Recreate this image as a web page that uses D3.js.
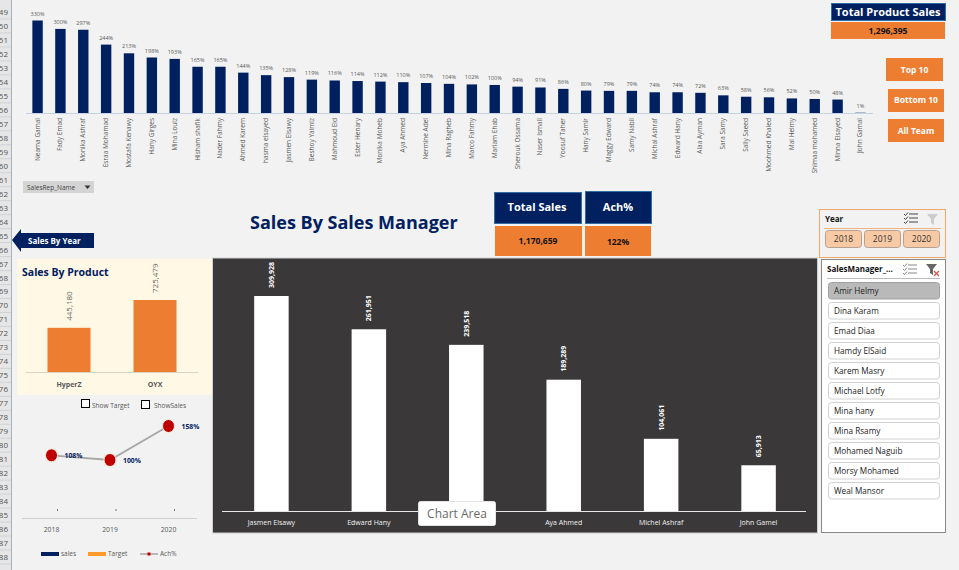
<!DOCTYPE html>
<meta charset="utf-8">
<body style="margin:0;background:#f2f2f2;overflow:hidden">
<svg id="dash" width="959" height="570"></svg>
<script src="https://d3js.org/d3.v7.min.js"></script>
<script>
// ----- data -----
var repNames = ["Neama Gamal","Fady Emad","Monika Ashraf","Esraa Mohamad","Mostafa Kenawy","Hany Girges","Mina Louiz","Hisham shafik","Nader Fahmy","Ahmed Karem","hasma elsayed","Jasmen Elsawy","Beshoy Yalmiz","Mahmoud Eid","Ester Henary","Monika Moheb","Aya Ahmed","Nermine Adel","Mina Ragheb","Marco Fahmy","Mariam Ehab","Sherouk Ossama","Naser Ismail","Yoosuf Taher","Hany Samir","Maggy Edward","Samy Nabil","Michal Ashraf","Edward Hany","Alaa Ayman","Sara Samy","Sally Saeed","Moohmed Khaled","Mai Helmy","Shimaa mohamed","Minna Elsayed","John Gamal"];
var repAch = [330,300,297,244,213,198,193,165,165,144,135,128,119,116,114,112,110,107,104,102,100,94,91,86,80,79,79,74,74,72,63,58,56,52,50,48,1];
// third name is hidden behind the tooltip in the screenshot
var managers = ["Jasmen Elsawy","Edward Hany","","Aya Ahmed","Michel Ashraf","John Gamel"];
var managerSales = [309928,261951,239518,189289,104061,65913];
var products = ["HyperZ","OYX"];
var productSales = [445180,725479];
var years = ["2018","2019","2020"];
var yearAch = [108,100,158];
var salesManagers = ["Amir Helmy","Dina Karam","Emad Diaa","Hamdy ElSaid","Karem Masry","Michael Lotfy","Mina hany","Mina Rsamy","Mohamed Naguib","Morsy Mohamed","Weal Mansor"];
var rowNumbers = d3.range(49, 89);

var navy = "#002060", orange = "#ed7d31", ui = "'Open Sans', sans-serif", body = "'Open Sans', sans-serif";
var svg = d3.select("#dash").style("display", "block");

function label(g, x, y, s, size, fill, anchor, weight, fam) {
  return g.append("text").attr("x", x).attr("y", y).text(s)
    .attr("font-size", size).attr("fill", fill).attr("text-anchor", anchor || "middle")
    .attr("font-weight", weight || "normal").attr("font-family", fam || body);
}
function box(x, y, w, h, fill, stroke) {
  return svg.append("rect").attr("x", x).attr("y", y).attr("width", w).attr("height", h)
    .attr("fill", fill).attr("stroke", stroke || "none");
}

// spreadsheet row numbers, clipped on the left like the screenshot
svg.append("rect").attr("x", 0).attr("y", 0).attr("width", 11).attr("height", 570).attr("fill", "#e6e6e6");
svg.append("line").attr("x1", 11.5).attr("x2", 11.5).attr("y1", 0).attr("y2", 570).attr("stroke", "#a9b3bd");
var rowY = d3.scaleLinear().domain([49, 88]).range([12, 557]);
rowNumbers.forEach(function(r) {
  label(svg, 8, rowY(r) + 3, r, 8, "#555", "end");
  svg.append("line").attr("x1", 0).attr("x2", 11).attr("y1", rowY(r) + 7).attr("y2", rowY(r) + 7).attr("stroke", "#cfd3d6");
});

// ---- top chart: achievement per sales rep
var repX = d3.scaleBand().domain(repNames).range([25.5, 872.5]).paddingInner(0.545).paddingOuter(0.3);
var repY = d3.scaleLinear().domain([0, 330]).range([113, 20.5]);
var repChart = svg.append("g");
repChart.append("line").attr("x1", 26).attr("x2", 873).attr("y1", 113.5).attr("y2", 113.5).attr("stroke", "#c5d2e4");
repChart.selectAll("rect").data(repAch).enter().append("rect")
  .attr("x", function(d, i) { return repX(repNames[i]); })
  .attr("y", function(d) { return repY(d); })
  .attr("width", repX.bandwidth())
  .attr("height", function(d) { return 113 - repY(d); })
  .attr("fill", navy);
repAch.forEach(function(d, i) {
  var cx = repX(repNames[i]) + repX.bandwidth() / 2;
  label(repChart, cx, repY(d) - 5, d + "%", 5.5, "#595959");
  label(repChart, 0, 0, repNames[i], 6.5, "#595959", "end")
    .attr("transform", "translate(" + (cx + 2) + ",118) rotate(-90)");
});
box(23, 181, 71, 12, "#d4d4d4");
label(svg, 27, 190, "SalesRep_Name", 6.5, "#444", "start");
svg.append("path").attr("d", "M84.5 185.5h6l-3 3.5z").attr("fill", "#333");

// ---- KPI boxes
box(831.5, 3.5, 114, 17, navy, "#2f6ea5");
label(svg, 888, 16, "Total Product Sales", 11, "#fff", "middle", "bold", ui);
box(831, 22, 114, 17, orange);
label(svg, 888, 34, "1,296,395", 8.5, "#111", "middle", "bold", ui);
box(494.5, 192.5, 87, 31, navy, "#2f6ea5");
label(svg, 537, 211, "Total Sales", 11, "#fff", "middle", "bold", ui);
box(585.5, 191.5, 66, 32, navy, "#2f6ea5");
label(svg, 618, 211, "Ach%", 11, "#fff", "middle", "bold", ui);
box(495, 226, 87, 30, orange);
label(svg, 538, 244, "1,170,659", 8.5, "#111", "middle", "bold", ui);
box(585, 226, 66, 30, orange);
label(svg, 618, 245, "122%", 8.5, "#111", "middle", "bold", ui);
label(svg, 250, 229, "Sales By Sales Manager", 18, navy, "start", "bold", ui);

// ---- orange buttons
[["Top 10", 886, 58, 57, 23, 73], ["Bottom 10", 888, 89, 56, 23, 103], ["All Team", 888, 119, 56, 23, 134]].forEach(function(b) {
  box(b[1], b[2], b[3], b[4], orange);
  label(svg, b[1] + b[3] / 2, b[5], b[0], 8.5, "#fff", "middle", "bold", ui);
});

// ---- back arrow
svg.append("path").attr("d", "M12 240l9-11v4h73v15H21v4z").attr("fill", navy);
label(svg, 28, 244, "Sales By Year", 8, "#fff", "start", "bold", ui);

// ---- sales by product
box(17, 259, 195, 136, "#fff8e5");
label(svg, 22, 276, "Sales By Product", 10.5, navy, "start", "bold", ui);
var prodX = d3.scaleBand().domain(products).range([26, 198]).paddingInner(0.5).paddingOuter(0.25);
var prodY = d3.scaleLinear().domain([0, 725479]).range([372, 300]);
svg.append("line").attr("x1", 26).attr("x2", 198).attr("y1", 372.5).attr("y2", 372.5).attr("stroke", "#d9d3c4");
productSales.forEach(function(d, i) {
  var x = prodX(products[i]);
  box(x, prodY(d), prodX.bandwidth(), 372 - prodY(d), orange);
  label(svg, 0, 0, d3.format(",")(d), 8, "#666", "start")
    .attr("transform", "translate(" + (x + prodX.bandwidth() / 2 + 3) + "," + (prodY(d) - 7) + ") rotate(-90)");
  label(svg, x + prodX.bandwidth() / 2, 387, products[i], 7, "#595959", "middle", "bold");
});

// ---- ach% by year
var yrX = d3.scalePoint().domain(years).range([51.5, 168.5]);
var yrY = d3.scaleLinear().domain([100, 158]).range([460, 426]);
box(81.5, 399.5, 8, 8, "#fff", "#000");
box(141.5, 400.5, 8, 8, "#fff", "#000");
label(svg, 92, 408, "Show Target", 6.5, "#555", "start");
label(svg, 154, 408, "ShowSales", 6.5, "#555", "start");
var achLine = d3.line().x(function(d, i) { return yrX(years[i]); }).y(function(d) { return yrY(d); });
svg.append("path").attr("d", achLine(yearAch)).attr("fill", "none").attr("stroke", "#a6a6a6").attr("stroke-width", 1.8);
yearAch.forEach(function(d, i) {
  svg.append("ellipse").attr("cx", yrX(years[i])).attr("cy", yrY(d)).attr("rx", 6).attr("ry", 6.5)
    .attr("fill", "#c00000").attr("stroke", "#fff4e0");
  label(svg, yrX(years[i]) + 13, yrY(d) + 2.5, d + "%", 6.8, navy, "start", "bold");
  svg.append("line").attr("x1", yrX(years[i]) + 6).attr("x2", yrX(years[i]) + 6).attr("y1", 509).attr("y2", 511).attr("stroke", "#777");
  label(svg, yrX(years[i]), 532, years[i], 6.8, "#595959");
});
svg.append("line").attr("x1", 22).attr("x2", 197).attr("y1", 518.5).attr("y2", 518.5).attr("stroke", "#d0d0d0");
box(41, 552, 18, 4, navy);
label(svg, 61, 556, "sales", 6.5, "#595959", "start");
box(88, 552, 18, 4, "#ff9a2e");
label(svg, 108, 556, "Target", 6.5, "#595959", "start");
svg.append("line").attr("x1", 140).attr("x2", 158).attr("y1", 554).attr("y2", 554).attr("stroke", "#a6a6a6").attr("stroke-width", 1.5);
box(147.5, 552.5, 3, 3, "#c00000");
label(svg, 160, 556, "Ach%", 6.5, "#595959", "start");

// ---- dark manager chart
box(212.5, 258, 605, 275, "#3a3839", "#cfcfcf");
var mgrX = d3.scaleBand().domain(managers).range([223, 807]).paddingInner(0.646).paddingOuter(0.32);
var mgrY = d3.scaleLinear().domain([0, 309928]).range([511, 296]);
svg.append("line").attr("x1", 222).attr("x2", 806).attr("y1", 511.5).attr("y2", 511.5).attr("stroke", "#e8e8e8");
managerSales.forEach(function(d, i) {
  var x = mgrX(managers[i]), cx = x + mgrX.bandwidth() / 2;
  box(x, mgrY(d), mgrX.bandwidth(), 511 - mgrY(d), "#fff");
  label(svg, 0, 0, d3.format(",")(d), 7, "#fff", "start", "bold")
    .attr("transform", "translate(" + (cx + 2.5) + "," + (mgrY(d) - 8) + ") rotate(-90)");
  if (managers[i]) label(svg, cx, 525, managers[i], 7, "#f2f2f2");
});

// excel tooltip caught in the screenshot
box(418.5, 501.5, 77, 24, "#fff", "#e4e4e4").attr("rx", 2);
label(svg, 457, 518, "Chart Area", 12, "#6a6a6a");

// ---- slicers
box(819.5, 209.5, 126, 48, "none", "#f0a868");
label(svg, 825, 222, "Year", 8, "#111", "start", "bold", ui);
svg.append("line").attr("x1", 824).attr("x2", 941).attr("y1", 228.5).attr("y2", 228.5).attr("stroke", "#f0b280");
years.forEach(function(y, i) {
  box(825.5 + i * 39, 230.5, 36, 17, "#f7c9a5", "#b8a090").attr("rx", 3);
  label(svg, 843.5 + i * 39, 242, y, 8.5, "#333", "middle", "normal", ui);
});
box(821.5, 259.5, 124, 273, "#fff", "#888");
label(svg, 827, 272, "SalesManager_...", 8, "#111", "start", "bold", ui);
svg.append("line").attr("x1", 827).attr("x2", 940).attr("y1", 278.5).attr("y2", 278.5).attr("stroke", "#bbb");
salesManagers.forEach(function(m, i) {
  var y = 282.5 + i * 20;
  box(828.5, y, 111, 16.5, i ? "#fff" : "#b9b9b9", i ? "#d0d0d0" : "#a0a0a0").attr("rx", 3);
  label(svg, 834, y + 11.5, m, 8.2, "#222", "start", "normal", ui);
});

// slicer header icons
[[[904, 214], "#444"], [[903, 265], "#888"]].forEach(function(ic) {
  for (var k = 0; k < 3; k++) {
    svg.append("line").attr("x1", ic[0][0] + 5).attr("x2", ic[0][0] + 14)
      .attr("y1", ic[0][1] + k * 4).attr("y2", ic[0][1] + k * 4).attr("stroke", ic[1]);
    svg.append("path").attr("d", "M" + ic[0][0] + " " + (ic[0][1] + k * 4) + "l1.5 1.5l2.5-3")
      .attr("fill", "none").attr("stroke", ic[1]);
  }
});
svg.append("path").attr("d", "M927 214h11l-4 5v6l-3-2v-4z").attr("fill", "#ccc");
svg.append("path").attr("d", "M926 264h11l-4 5v6l-3-2v-4z").attr("fill", "#666");
svg.append("path").attr("d", "M934 271l5 5m0-5l-5 5").attr("stroke", "#d9534f").attr("stroke-width", 1.3);
</script>
</body>
